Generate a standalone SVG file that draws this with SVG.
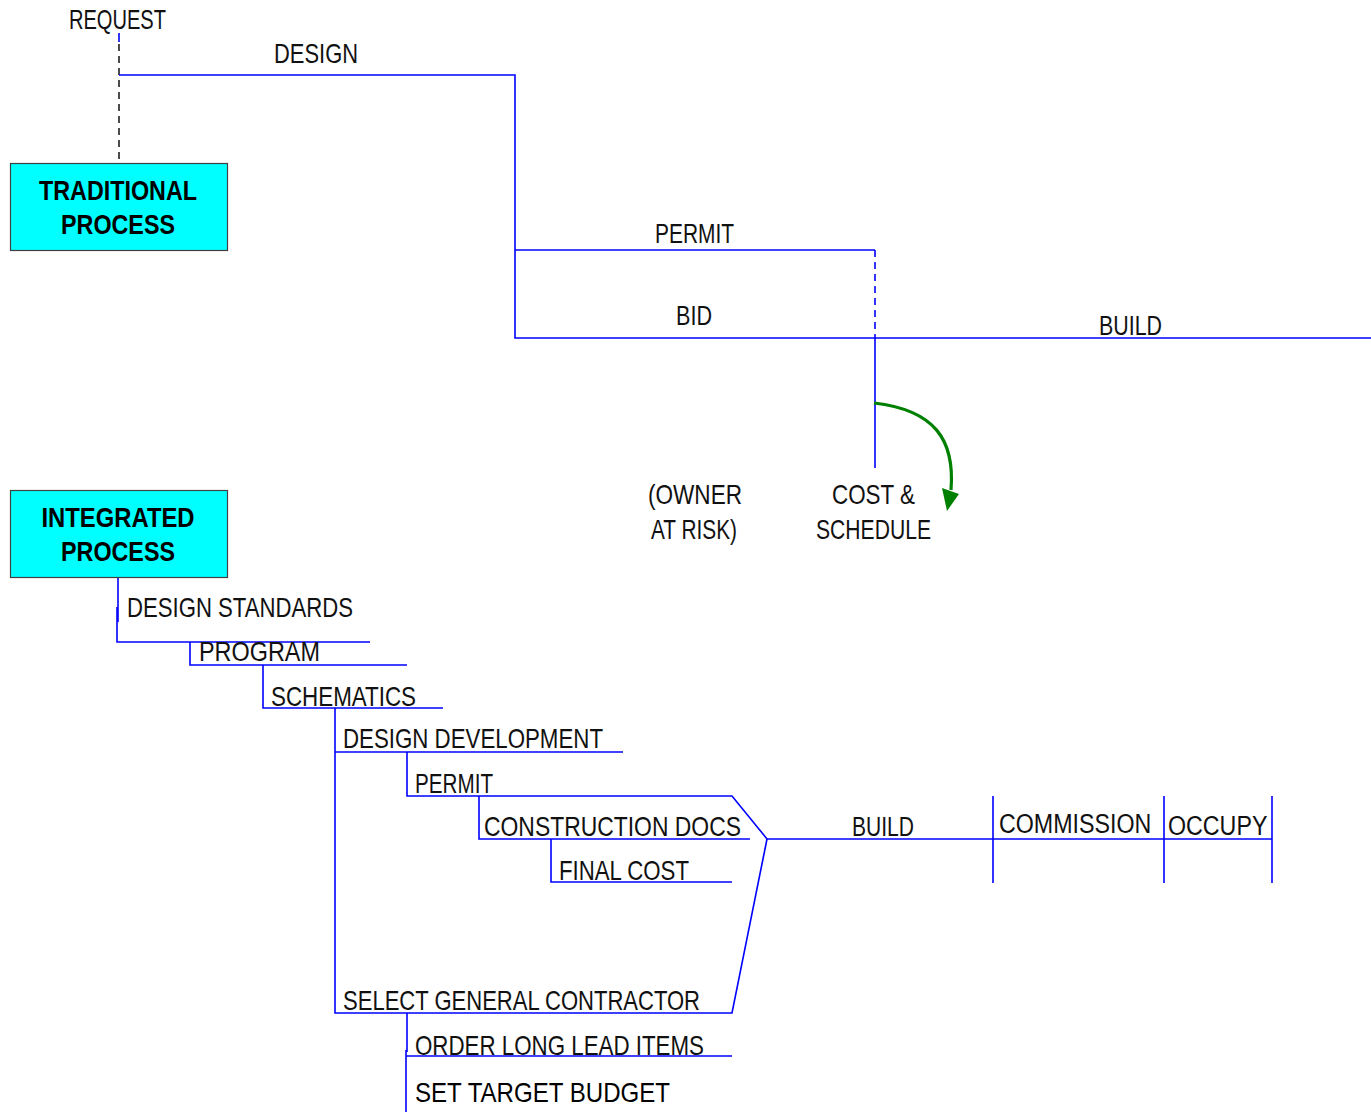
<svg xmlns="http://www.w3.org/2000/svg" width="1371" height="1112" viewBox="0 0 1371 1112">
<style>
.t{font-family:"Liberation Sans",Arial,sans-serif;font-size:28px;fill:#111;}
.b{font-family:"Liberation Sans",Arial,sans-serif;font-size:28px;font-weight:bold;fill:#000;text-anchor:middle;}
.box{fill:#00FFFF;stroke:#404040;stroke-width:1.2;}
.ln{fill:none;stroke:#0000FF;stroke-width:1.6;}
.dsh{fill:none;stroke:#0000FF;stroke-width:1.6;stroke-dasharray:7 5;}
.blk{fill:none;stroke:#000;stroke-width:1.4;stroke-dasharray:7 5;}
</style>
<rect width="1371" height="1112" fill="#fff"/>
<g id="connectors">
<line class="ln" x1="119" y1="33" x2="119" y2="42"/>
<line class="blk" x1="119" y1="44" x2="119" y2="163"/>
<polyline class="ln" points="119,75 515,75 515,338 1371,338"/>
<line class="ln" x1="515" y1="250" x2="875" y2="250"/>
<line class="dsh" x1="875" y1="250" x2="875" y2="338"/>
<line class="ln" x1="875" y1="338" x2="875" y2="468"/>
<path d="M874,403 C935,410 955,440 951,490" fill="none" stroke="#008000" stroke-width="3.2"/>
<polygon points="942,488 959,494 947,511" fill="#008000"/>
<polyline class="ln" points="118,577 118,622"/>
<polyline class="ln" points="117,607 117,642 370,642"/>
<polyline class="ln" points="190,642 190,665 407,665"/>
<polyline class="ln" points="263,665 263,708 443,708"/>
<polyline class="ln" points="335,708 335,1013 732,1013 767,839"/>
<line class="ln" x1="335" y1="752" x2="623" y2="752"/>
<polyline class="ln" points="407,752 407,796 732,796 767,839 1272,839"/>
<polyline class="ln" points="479,796 479,839 750,839"/>
<polyline class="ln" points="551,839 551,882 732,882"/>
<line class="ln" x1="993" y1="796" x2="993" y2="883"/>
<line class="ln" x1="1164" y1="796" x2="1164" y2="883"/>
<line class="ln" x1="1272" y1="796" x2="1272" y2="883"/>
<line class="ln" x1="407" y1="1013" x2="407" y2="1052"/>
<line class="ln" x1="406" y1="1050" x2="406" y2="1112"/>
<line class="ln" x1="406" y1="1056" x2="732" y2="1056"/>
</g>
<g id="traditional">
<rect class="box" x="10.5" y="163.5" width="217" height="87"/>
<text class="b" x="118" y="200" textLength="158" lengthAdjust="spacingAndGlyphs">TRADITIONAL</text>
<text class="b" x="118" y="234" textLength="114" lengthAdjust="spacingAndGlyphs">PROCESS</text>
</g>
<g id="integrated">
<rect class="box" x="10.5" y="490.5" width="217" height="87"/>
<text class="b" x="118" y="527" textLength="153" lengthAdjust="spacingAndGlyphs">INTEGRATED</text>
<text class="b" x="118" y="561" textLength="114" lengthAdjust="spacingAndGlyphs">PROCESS</text>
</g>
<g id="labels-top">
<text class="t" x="69" y="29" textLength="97" lengthAdjust="spacingAndGlyphs">REQUEST</text>
<text class="t" x="274" y="63" textLength="84" lengthAdjust="spacingAndGlyphs">DESIGN</text>
<text class="t" x="655" y="243" textLength="79" lengthAdjust="spacingAndGlyphs">PERMIT</text>
<text class="t" x="676" y="325" textLength="36" lengthAdjust="spacingAndGlyphs">BID</text>
<text class="t" x="1099" y="335" textLength="63" lengthAdjust="spacingAndGlyphs">BUILD</text>
<text class="t" x="648" y="504" textLength="94" lengthAdjust="spacingAndGlyphs">(OWNER</text>
<text class="t" x="651" y="539" textLength="86" lengthAdjust="spacingAndGlyphs">AT RISK)</text>
<text class="t" x="832" y="504" textLength="83" lengthAdjust="spacingAndGlyphs">COST &amp;</text>
<text class="t" x="816" y="539" textLength="115" lengthAdjust="spacingAndGlyphs">SCHEDULE</text>
</g>
<g id="labels-bottom">
<text class="t" x="127" y="617" textLength="226" lengthAdjust="spacingAndGlyphs">DESIGN STANDARDS</text>
<text class="t" x="199" y="661" textLength="121" lengthAdjust="spacingAndGlyphs">PROGRAM</text>
<text class="t" x="271" y="706" textLength="145" lengthAdjust="spacingAndGlyphs">SCHEMATICS</text>
<text class="t" x="343" y="748" textLength="260" lengthAdjust="spacingAndGlyphs">DESIGN DEVELOPMENT</text>
<text class="t" x="415" y="793" textLength="78" lengthAdjust="spacingAndGlyphs">PERMIT</text>
<text class="t" x="484" y="836" textLength="257" lengthAdjust="spacingAndGlyphs">CONSTRUCTION DOCS</text>
<text class="t" x="559" y="880" textLength="130" lengthAdjust="spacingAndGlyphs">FINAL COST</text>
<text class="t" x="852" y="836" textLength="62" lengthAdjust="spacingAndGlyphs">BUILD</text>
<text class="t" transform="translate(999,833) scale(0.83,1)">COMMISSION</text>
<text class="t" transform="translate(1168,835) scale(0.83,1)">OCCUPY</text>
<text class="t" x="343" y="1010" textLength="357" lengthAdjust="spacingAndGlyphs">SELECT GENERAL CONTRACTOR</text>
<text class="t" x="415" y="1055" textLength="289" lengthAdjust="spacingAndGlyphs">ORDER LONG LEAD ITEMS</text>
<text class="t" x="415" y="1102" textLength="255" lengthAdjust="spacingAndGlyphs" style="fill:#000">SET TARGET BUDGET</text>
</g>
</svg>
